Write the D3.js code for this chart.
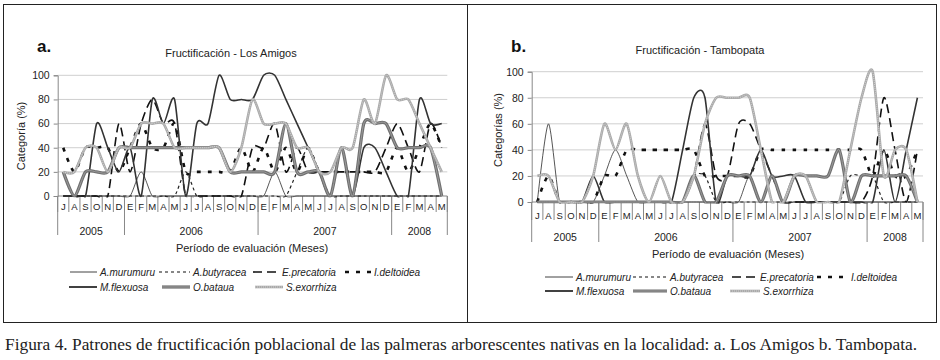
<!DOCTYPE html>
<html><head><meta charset="utf-8">
<script src="https://cdn.jsdelivr.net/npm/d3@7/dist/d3.min.js"></script>
<style>body{margin:0;background:#fff}svg{display:block}</style>
</head><body>
<svg id="c" width="940" height="360"></svg>
<script>
// ---------- data ----------
const months = ["J","A","S","O","N","D","E","F","M","A","M","J","J","A","S","O","N","D","E","F","M","A","M","J","J","A","S","O","N","D","E","F","M","A","M"];
const yearLabels = ["2005","2006","2007","2008"];
const yearMonthCounts = [6,12,12,5];
const yTicks = [0,20,40,60,80,100];
const seriesNames = ["A.murumuru","A.butyracea","E.precatoria","I.deltoidea","M.flexuosa","O.bataua","S.exorrhiza"];

// a. Los Amigos
const amA_murumuru  = [0,0,0,0,0,0,0,20,0,0,0,0,0,0,0,0,0,0,0,20,0,0,0,0,0,0,0,0,0,0,0,0,0,0,0];
const amA_butyracea = [0,0,0,0,0,0,0,0,0,0,0,20,0,0,0,0,0,0,0,0,0,20,40,20,0,0,0,0,0,0,0,0,0,0,0];
const amE_precatoria= [0,0,0,0,0,60,20,60,80,60,60,0,0,0,0,0,0,40,40,60,20,40,20,20,20,20,20,20,20,40,60,40,20,60,40];
const amI_deltoidea = [40,20,40,40,40,20,40,60,40,40,60,20,20,20,20,20,40,20,40,20,40,20,40,20,20,20,20,20,20,20,40,20,40,60,40];
const amM_flexuosa  = [0,0,0,60,40,20,40,0,80,60,80,0,60,60,100,80,80,80,100,100,80,60,40,20,0,40,0,40,40,20,0,0,80,60,60];
const amO_bataua    = [20,0,20,20,20,40,40,40,40,40,40,40,40,40,40,20,20,20,20,20,60,20,20,20,0,40,0,60,60,60,40,40,40,40,0];
const amS_exorrhiza = [20,20,40,40,20,40,40,60,60,60,40,40,40,40,40,20,40,80,60,60,60,40,40,20,20,40,40,80,60,100,80,80,60,40,20];

// b. Tambopata
const tbA_murumuru  = [0,60,0,0,0,0,20,40,20,0,0,0,0,0,0,0,0,0,0,20,0,20,0,0,0,0,0,0,0,0,0,0,0,0,0];
const tbA_butyracea = [0,0,0,0,0,0,0,0,0,0,0,0,0,0,20,20,0,0,0,0,0,0,0,0,0,0,0,0,20,20,20,0,0,0,0];
const tbE_precatoria= [0,0,0,0,0,0,0,0,0,0,0,0,0,0,20,60,20,20,60,60,40,20,0,0,0,0,0,0,0,0,20,80,40,0,40];
const tbI_deltoidea = [0,20,0,0,0,0,20,20,40,40,40,40,40,40,40,20,20,20,20,20,40,40,40,40,40,40,40,40,40,40,20,40,20,20,40];
const tbM_flexuosa  = [0,0,0,0,0,20,0,0,0,0,0,0,0,40,80,80,0,20,20,20,40,20,20,20,0,0,0,0,0,0,0,40,0,40,80];
const tbO_bataua    = [0,0,0,0,0,0,0,0,0,0,0,0,0,0,20,0,0,20,20,20,0,20,0,20,20,20,20,40,0,20,20,20,20,20,0];
const tbS_exorrhiza = [20,20,0,0,0,20,60,40,60,20,0,20,0,0,20,60,80,80,80,80,40,0,0,20,20,0,0,0,40,80,100,20,40,40,0];

// ---------- styles ----------
const styles = {
  "A.murumuru":  {stroke:"#2a2a2a", w:0.8, dash:null},
  "A.butyracea": {stroke:"#222", w:1.2, dash:"3,3"},
  "E.precatoria":{stroke:"#111", w:1.6, dash:"9,5"},
  "I.deltoidea": {stroke:"#111", w:2.6, dash:"4,7"},
  "M.flexuosa":  {stroke:"#333", w:1.6, dash:null},
  "O.bataua":    {stroke:"#707070", w:3.2, dash:null, inner:"#a0a0a0"},
  "S.exorrhiza": {stroke:"#a9a9a9", w:2.6, dash:null, inner:"#d6d6d6", innerDash:"1,1"}
};

const svg = d3.select("#c");
const FONT = "Liberation Sans, Arial, sans-serif";

// frame
svg.append("rect").attr("x",3.5).attr("y",4.5).attr("width",933).attr("height",318)
  .attr("fill","none").attr("stroke","#222").attr("stroke-width",1);
svg.append("line").attr("x1",467.5).attr("x2",467.5).attr("y1",4.5).attr("y2",322.5)
  .attr("stroke","#222").attr("stroke-width",1);

function drawPanel(cfg, id){
  const g = svg.append("g");
  const x = d3.scaleBand().domain(d3.range(months.length)).range([cfg.x0,cfg.x1]).paddingInner(0).paddingOuter(0);
  const y = d3.scaleLinear().domain([0,100]).range([cfg.yB,cfg.yT]);
  const cx = i => x(i)+x.bandwidth()/2;

  svg.append("clipPath").attr("id","clip"+id).append("rect")
    .attr("x",cfg.x0).attr("y",cfg.yT-6).attr("width",cfg.x1-cfg.x0).attr("height",cfg.yB-cfg.yT+7.5);

  // gridlines
  g.append("g").selectAll("line").data(yTicks.filter(t=>t>0)).join("line")
    .attr("x1",cfg.x0).attr("x2",cfg.x1).attr("y1",d=>y(d)).attr("y2",d=>y(d))
    .attr("stroke","#cfcfcf").attr("stroke-width",1);

  // y axis
  const ya = g.append("g").attr("transform",`translate(${cfg.x0},0)`)
    .call(d3.axisLeft(y).tickValues(yTicks).tickSize(4).tickPadding(4));
  ya.select(".domain").attr("stroke","#888");
  ya.selectAll(".tick line").attr("stroke","#888");
  ya.selectAll("text").attr("font-family",FONT).attr("font-size",10.5).attr("fill","#222");

  // x axis line
  g.append("line").attr("x1",cfg.x0).attr("x2",cfg.x1).attr("y1",cfg.yB).attr("y2",cfg.yB).attr("stroke","#888");
  // month separators
  g.append("g").selectAll("line").data(d3.range(months.length+1)).join("line")
    .attr("x1",i=> i<months.length? x(i): cfg.x1).attr("x2",i=> i<months.length? x(i): cfg.x1)
    .attr("y1",cfg.yB).attr("y2",cfg.yB+cfg.mTick).attr("stroke","#888");
  // year separators
  const cum = [0]; yearMonthCounts.forEach(n=>cum.push(cum[cum.length-1]+n));
  g.append("g").selectAll("line").data(cum).join("line")
    .attr("x1",i=> i<months.length? x(i): cfg.x1).attr("x2",i=> i<months.length? x(i): cfg.x1)
    .attr("y1",cfg.yB).attr("y2",cfg.yB+cfg.yrTick).attr("stroke","#888");
  // month labels
  g.append("g").selectAll("text").data(months).join("text")
    .attr("x",(d,i)=>cx(i)).attr("y",cfg.yB+cfg.mLab).attr("text-anchor","middle")
    .attr("font-family",FONT).attr("font-size",9.5).attr("fill","#222").text(d=>d);
  // year labels
  g.append("g").selectAll("text").data(yearLabels).join("text")
    .attr("x",(d,k)=>{const a=cum[k], b=cum[k+1]; const xa=x(a); const xb= b<months.length? x(b): cfg.x1; return (xa+xb)/2;})
    .attr("y",cfg.yB+cfg.yrLab).attr("text-anchor","middle")
    .attr("font-family",FONT).attr("font-size",10.5).attr("fill","#222").text(d=>d);

  // axis title
  g.append("text").attr("x",cfg.xtX).attr("y",cfg.xtY).attr("text-anchor","middle")
    .attr("font-family",FONT).attr("font-size",11).attr("fill","#222").text("Período de evaluación (Meses)");
  g.append("text").attr("transform",`translate(${cfg.ytX},${cfg.ytY}) rotate(-90)`).attr("text-anchor","middle")
    .attr("font-family",FONT).attr("font-size",11).attr("fill","#222").text(cfg.yTitle);
  // titles
  g.append("text").attr("x",cfg.tX).attr("y",cfg.tY).attr("text-anchor","middle")
    .attr("font-family",FONT).attr("font-size",11).attr("fill","#222").text(cfg.title);
  g.append("text").attr("x",cfg.lX).attr("y",cfg.lY)
    .attr("font-family",FONT).attr("font-size",17).attr("font-weight","bold").attr("fill","#111").text(cfg.letter);

  // series
  const line = d3.line().x((d,i)=>cx(i)).y(d=>y(d)).curve(d3.curveCardinal.tension(0.25));
  const sg = g.append("g").attr("clip-path",`url(#clip${id})`);
  seriesNames.forEach((name,k)=>{
    const st = styles[name], vals = cfg.series[k];
    sg.append("path").datum(vals).attr("d",line).attr("fill","none")
      .attr("stroke",st.stroke).attr("stroke-width",st.w)
      .attr("stroke-dasharray",st.dash).attr("stroke-linejoin","round");
    if(st.inner){
      sg.append("path").datum(vals).attr("d",line).attr("fill","none")
        .attr("stroke",st.inner).attr("stroke-width",0.9).attr("stroke-dasharray",st.innerDash||null);
    }
  });

  // legend
  const lg = g.append("g");
  seriesNames.forEach((name,k)=>{
    const pos = cfg.legend[k], st = styles[name];
    const legStroke = (name==="O.bataua"||name==="S.exorrhiza") ? st.stroke : "#111";
    lg.append("line").attr("x1",pos[0]).attr("x2",pos[1]).attr("y1",pos[2]).attr("y2",pos[2])
      .attr("stroke",legStroke).attr("stroke-width",st.w).attr("stroke-dasharray",st.dash);
    if(st.inner) lg.append("line").attr("x1",pos[0]).attr("x2",pos[1]).attr("y1",pos[2]).attr("y2",pos[2])
      .attr("stroke",st.inner).attr("stroke-width",0.9).attr("stroke-dasharray",st.innerDash||null);
    lg.append("text").attr("x",pos[1]+3).attr("y",pos[2]+3.6)
      .attr("font-family",FONT).attr("font-size",10).attr("font-style","italic").attr("fill","#222").text(name);
  });
}

drawPanel({
  x0:57.7, x1:447.3, yT:75.3, yB:196,
  mTick:16, yrTick:39, mLab:14, yrLab:38.5,
  xtX:252, xtY:252, ytX:25, ytY:136, yTitle:"Categoría (%)",
  tX:231, tY:57, title:"Fructificación - Los Amigos", lX:37, lY:52, letter:"a.",
  series:[amA_murumuru,amA_butyracea,amE_precatoria,amI_deltoidea,amM_flexuosa,amO_bataua,amS_exorrhiza],
  legend:[[70,97,272],[159,190,272],[253,279,272],[345,371,272],[69,97,287],[162,190,287],[255,283,287]]
}, "a");
drawPanel({
  x0:531.7, x1:923, yT:71.7, yB:202,
  mTick:18, yrTick:40, mLab:16.5, yrLab:38.5,
  xtX:728, xtY:258, ytX:502, ytY:130, yTitle:"Categorías (%)",
  tX:700, tY:54, title:"Fructificación - Tambopata", lX:511, lY:52, letter:"b.",
  series:[tbA_murumuru,tbA_butyracea,tbE_precatoria,tbI_deltoidea,tbM_flexuosa,tbO_bataua,tbS_exorrhiza],
  legend:[[545,573,277],[633,667,277],[732,757,277],[817,848,277],[545,573,291],[633,667,291],[730,760,291]]
}, "b");

// caption
svg.append("text").attr("x",5).attr("y",350).attr("font-family","Liberation Serif, Times New Roman, serif")
  .attr("font-size",16).attr("fill","#222").attr("textLength",912).attr("lengthAdjust","spacingAndGlyphs")
  .text("Figura 4. Patrones de fructificación poblacional de las palmeras arborescentes nativas en la localidad: a.  Los Amigos b. Tambopata.");
</script>
</body></html>
